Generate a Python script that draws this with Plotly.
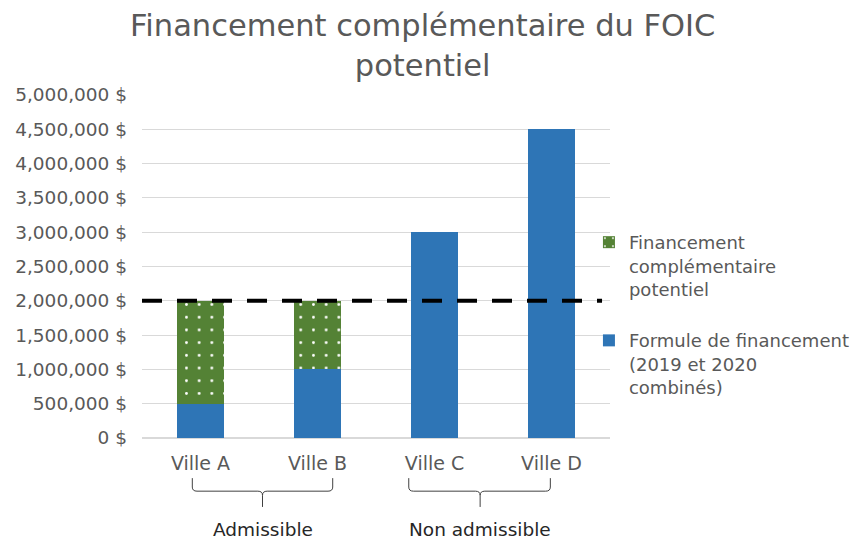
import plotly.graph_objects as go

categories = ["Ville A", "Ville B", "Ville C", "Ville D"]
formule = [500000, 1000000, 3000000, 4500000]
complementaire = [1500000, 1000000, 0, 0]
seuil = 2000000
groups = ["Admissible", "Non admissible"]
title_text = "Financement complémentaire du FOIC<br>potentiel"

grey = "#595959"
FONT = "DejaVu Sans, sans-serif"
FS = 18.5
fig = go.Figure()
fig.add_trace(go.Bar(
    x=categories, y=formule, name="Formule de financement<br>(2019 et 2020<br>combinés)",
    legendgroup="b", legendrank=2,
    marker=dict(color="#2E75B6", line=dict(width=0)), width=0.4))
fig.add_trace(go.Bar(
    x=categories, y=complementaire, name="Financement<br>complémentaire<br>potentiel",
    legendgroup="a", legendrank=1,
    marker=dict(color="#548235", line=dict(width=0),
                pattern=dict(shape=".", fgcolor="white", bgcolor="#548235", size=12.7,
                             solidity=0.04, fillmode="replace")),
    width=0.4))

fig.add_shape(type="line", xref="paper", yref="y", x0=0, x1=0.983, y0=seuil, y1=seuil,
              line=dict(color="black", width=4, dash="20px,15px"))

def brace(x0, x1, xm):
    yt, ym, yb = -0.117, -0.155, -0.201
    r = 0.012
    return (f"M {x0},{yt} L {x0},{ym + r} Q {x0},{ym} {x0 + 0.04},{ym} L {xm - 0.04},{ym} "
            f"Q {xm},{ym} {xm},{ym - r} L {xm},{yb} M {xm},{ym - r} Q {xm},{ym} {xm + 0.04},{ym} "
            f"L {x1 - 0.04},{ym} Q {x1},{ym} {x1},{ym + r} L {x1},{yt}")

for (x0, x1, xm), g in zip([(-0.07, 1.13, 0.53), (1.78, 2.99, 2.39)], groups):
    fig.add_shape(type="path", xref="x", yref="paper", path=brace(x0, x1, xm),
                  line=dict(color="#404040", width=1))
    fig.add_annotation(x=xm, y=-0.268, xref="x", yref="paper", text=g, showarrow=False,
                       font=dict(family=FONT, size=FS, color="#262626"), yanchor="middle")

fig.add_annotation(x=0.599, y=1.143, xref="paper", yref="paper", text=title_text,
                   showarrow=False, xanchor="center", yanchor="middle",
                   font=dict(family="DejaVu Sans, sans-serif", size=30.5, color=grey))

fig.update_layout(
    width=854, height=545,
    margin=dict(l=134, r=252, t=87, b=115, autoexpand=False),
    barmode="stack",
    plot_bgcolor="white", paper_bgcolor="white",
    font=dict(family=FONT, size=FS, color=grey),
    legend=dict(x=0.955, xanchor="left", y=0.624, yanchor="top", valign="top",
                bgcolor="rgba(0,0,0,0)", traceorder="grouped",
                font=dict(family=FONT, size=18, color=grey), tracegroupgap=25, itemwidth=30),
    showlegend=True,
)
fig.update_yaxes(range=[0, 5000000], dtick=500000, tickformat=",.0f", ticksuffix=" $",
                 showgrid=True, gridcolor="#D9D9D9", gridwidth=1, zeroline=True,
                 zerolinecolor="#D9D9D9", ticks="", ticklabelstandoff=14, automargin=False,
                 tickfont=dict(family=FONT, size=FS, color=grey))
fig.update_xaxes(showline=True, linecolor="#D9D9D9", ticks="", ticklabelstandoff=8,
                 automargin=False, tickfont=dict(family=FONT, size=19, color=grey))

fig.write_html("out.html")
